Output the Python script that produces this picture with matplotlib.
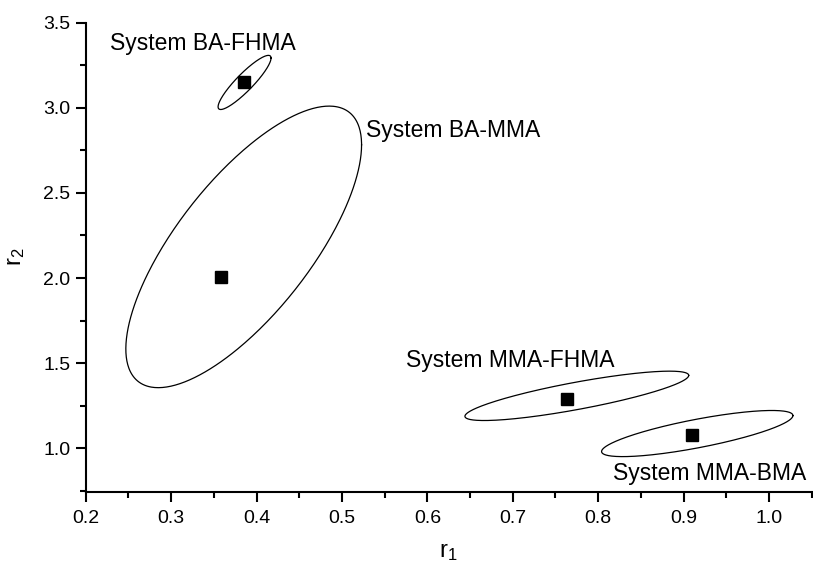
import numpy as np
import matplotlib
matplotlib.use("Agg")
import matplotlib.pyplot as plt
from matplotlib.ticker import MultipleLocator

plt.rcParams['font.family'] = ['Liberation Sans', 'DejaVu Sans']
plt.rcParams['mathtext.default'] = 'regular'

# Best estimates (squares)
systems = ["System BA-FHMA", "System BA-MMA", "System MMA-FHMA", "System MMA-BMA"]
r1_vals = [0.385, 0.358, 0.764, 0.910]
r2_vals = [3.153, 2.006, 1.292, 1.079]

# Confidence ellipses: centre, half-extent in r1 and r2, correlation-like shape factor
ell_cx = [0.386, 0.385, 0.775, 0.916]
ell_cy = [3.149, 2.183, 1.308, 1.0865]
ell_ax = [0.031, 0.138, 0.131, 0.112]
ell_ay = [0.159, 0.827, 0.145, 0.1355]
ell_rho = [0.90, 0.725, 0.828, 0.779]

# Label anchor positions (left edge, vertical centre) in data units
label_x = [0.2285, 0.5285, 0.575, 0.8175]
label_y = [3.379, 2.865, 1.516, 0.851]

fig = plt.figure(figsize=(8.13, 5.70), dpi=100)
ax = fig.add_axes([0.1054, 0.1374, 0.893, 0.8228])

t = np.linspace(0, 2 * np.pi, 400)
for cx, cy, a, b, rho in zip(ell_cx, ell_cy, ell_ax, ell_ay, ell_rho):
    phi = np.arccos(rho)
    ax.plot(cx + a * np.cos(t), cy + b * np.cos(t + phi), color='black', lw=0.9)

ax.plot(r1_vals, r2_vals, linestyle='none', marker='s', markersize=8.4,
        color='black')

for name, lx, ly in zip(systems, label_x, label_y):
    ax.text(lx, ly, name, ha='left', va='center', fontsize=16.5, color='black')

ax.set_xlim(0.2, 1.05)
ax.set_ylim(0.745, 3.5)
ax.xaxis.set_minor_locator(MultipleLocator(0.05))
ax.yaxis.set_minor_locator(MultipleLocator(0.25))
ax.set_xticks([0.2, 0.3, 0.4, 0.5, 0.6, 0.7, 0.8, 0.9, 1.0])
ax.set_xticklabels(["0.2", "0.3", "0.4", "0.5", "0.6", "0.7", "0.8", "0.9", "1.0"])
ax.set_yticks([1.0, 1.5, 2.0, 2.5, 3.0, 3.5])
ax.set_yticklabels(["1.0", "1.5", "2.0", "2.5", "3.0", "3.5"])

for s in ['top', 'right']:
    ax.spines[s].set_visible(False)
for s in ['left', 'bottom']:
    ax.spines[s].set_linewidth(1.5)

ax.tick_params(which='major', direction='out', length=7, width=1.5,
               labelsize=14)
ax.tick_params(which='minor', direction='out', length=4, width=1.5)
ax.tick_params(axis='x', which='major', pad=6)
ax.tick_params(axis='y', which='major', pad=4)

ax.set_xlabel("r$_1$", fontsize=17, labelpad=10)
ax.set_ylabel("r$_2$", fontsize=17, labelpad=12)

fig.savefig("out.png", dpi=100)
